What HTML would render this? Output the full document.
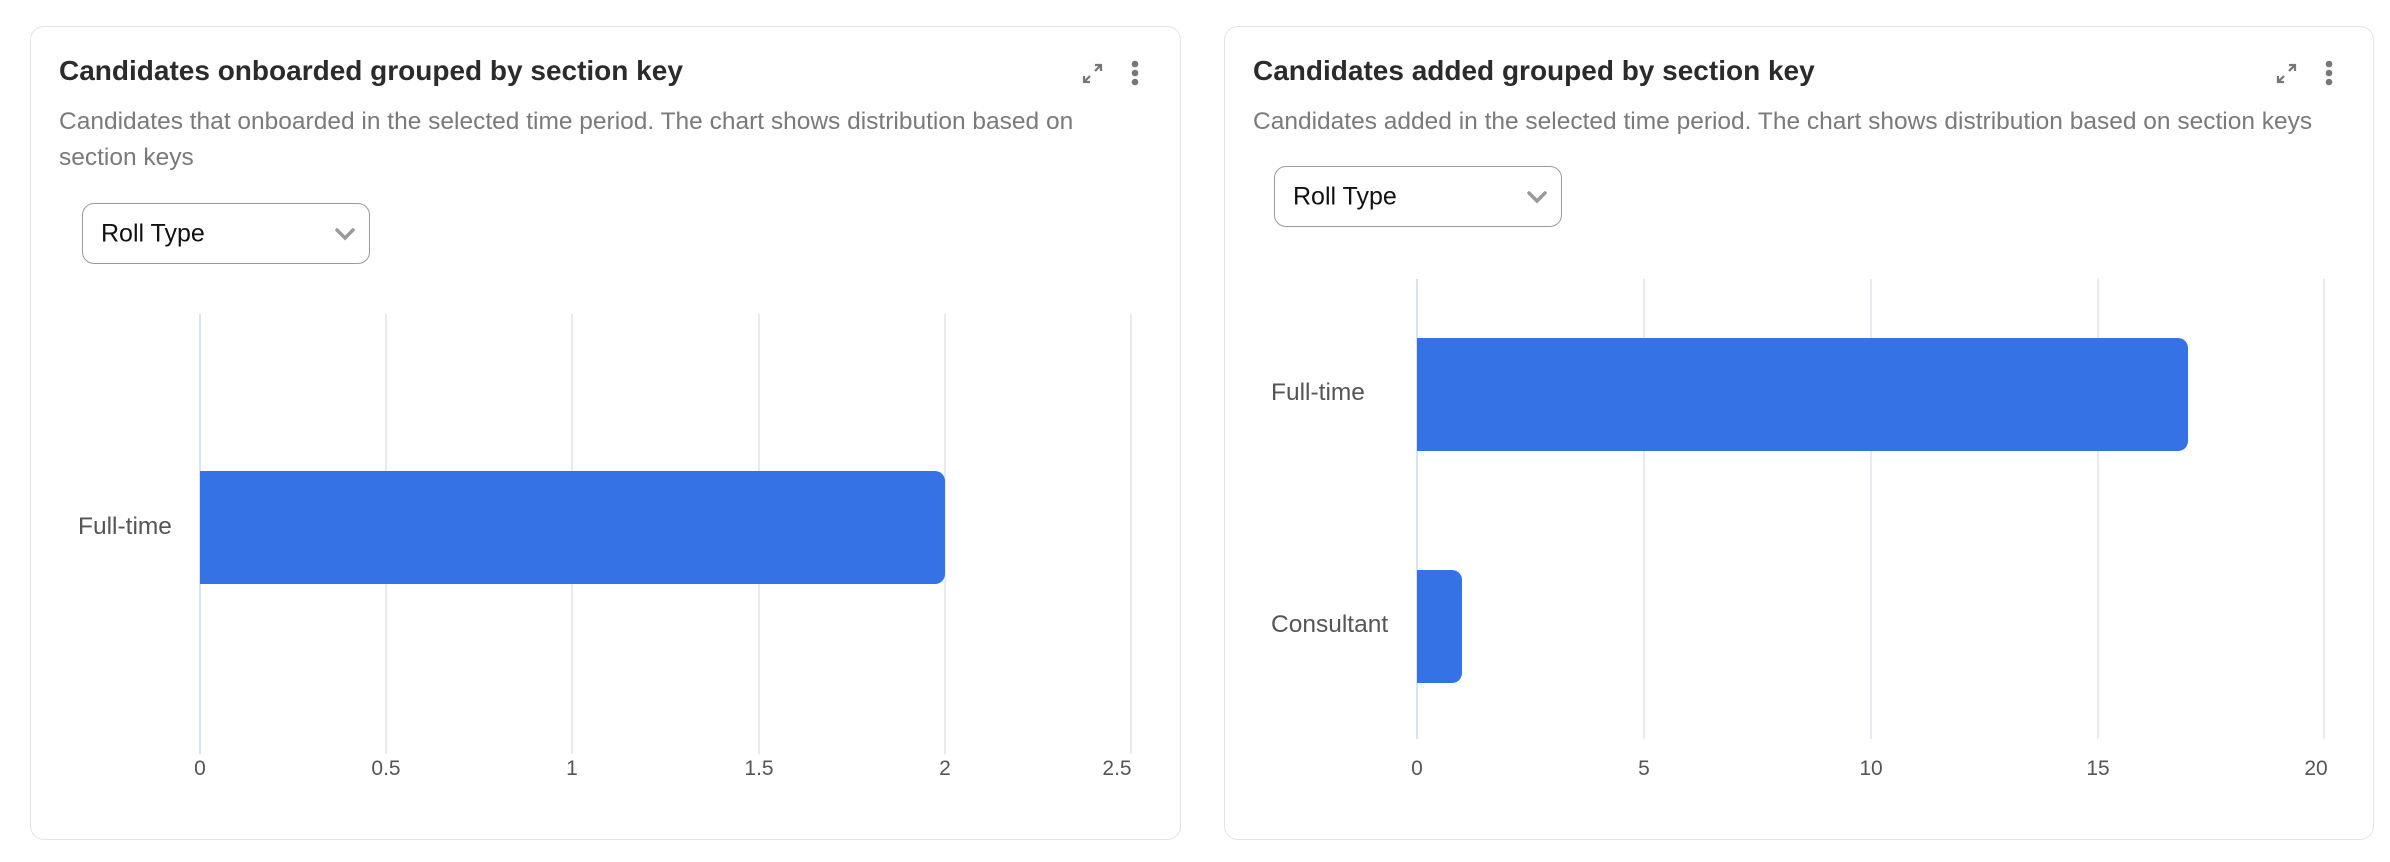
<!DOCTYPE html>
<html><head><style>
body{margin:0;width:2390px;height:862px;background:#fff;font-family:"Liberation Sans",sans-serif;position:relative;overflow:hidden}
.card{position:absolute;top:26px;height:814px;border:1.5px solid #e4e4e4;border-radius:14px;box-sizing:border-box;background:#fff}
.t{position:absolute;font-size:28px;font-weight:bold;color:#2b2b2b;letter-spacing:0px}
.d{position:absolute;font-size:24.5px;color:#7a7a7a;line-height:36px;white-space:nowrap}
.dd{position:absolute;border:1.5px solid #9a9a9a;border-radius:12px;box-sizing:border-box;font-size:25px;color:#111}
.dd span{position:absolute;left:18px;top:50%;transform:translateY(-50%)}
.lbl{position:absolute;font-size:24.5px;color:#555}
.tick{position:absolute;font-size:21px;color:#555;transform:translateX(-50%)}
</style></head><body>
<div class="card" style="left:30px;width:1151px"></div>
<div class="card" style="left:1224px;width:1150px"></div>

<div class="t" style="left:59px;top:55px">Candidates onboarded grouped by section key</div>
<div class="d" style="left:59px;top:104px">Candidates that onboarded in the selected time period. The chart shows distribution based on<br>section keys</div>
<div class="dd" style="left:82px;top:203px;width:288px;height:61px"><span>Roll Type</span></div>

<div class="t" style="left:1253px;top:55px">Candidates added grouped by section key</div>
<div class="d" style="left:1253px;top:104px">Candidates added in the selected time period. The chart shows distribution based on section keys</div>
<div class="dd" style="left:1274px;top:166px;width:288px;height:61px"><span>Roll Type</span></div>

<svg width="2390" height="862" style="position:absolute;left:0;top:0">
<g stroke="#9a9a9a" stroke-width="3.5" fill="none" stroke-linecap="round">
<path d="M337 230l8 8 8-8"/><path d="M1529 193l8 8 8-8"/>
</g>
<g fill="#777">
<circle cx="1135" cy="64" r="3.3"/><circle cx="1135" cy="73" r="3.3"/><circle cx="1135" cy="82" r="3.3"/>
<circle cx="2329" cy="64" r="3.3"/><circle cx="2329" cy="73" r="3.3"/><circle cx="2329" cy="82" r="3.3"/>
</g>
<g stroke="#777" stroke-width="2.2" fill="none">
<path d="M1084 82l6-6M1084 76v6h6M1101 65l-6 6M1095 65h6v6"/>
<path d="M2278 82l6-6M2278 76v6h6M2295 65l-6 6M2289 65h6v6"/>
</g>
<g stroke="#e2e4e8" stroke-width="1.5">
<line x1="386" y1="314" x2="386" y2="754"/><line x1="572" y1="314" x2="572" y2="754"/><line x1="759" y1="314" x2="759" y2="754"/><line x1="945" y1="314" x2="945" y2="754"/><line x1="1131" y1="314" x2="1131" y2="754"/>
<line x1="1644" y1="279" x2="1644" y2="739"/><line x1="1871" y1="279" x2="1871" y2="739"/><line x1="2098" y1="279" x2="2098" y2="739"/><line x1="2324" y1="279" x2="2324" y2="739"/>
</g>
<g stroke="#cfd8e8" stroke-width="1.5">
<line x1="200" y1="314" x2="200" y2="754"/><line x1="1417" y1="279" x2="1417" y2="739"/>
</g>
<g fill="#3572e6">
<path d="M200 471h735a10 10 0 0 1 10 10v93a10 10 0 0 1-10 10h-735z"/>
<path d="M1417 338h761a10 10 0 0 1 10 10v93a10 10 0 0 1-10 10h-761z"/>
<path d="M1417 570h35a10 10 0 0 1 10 10v93a10 10 0 0 1-10 10h-35z"/>
</g>
</svg>

<div class="lbl" style="left:78px;top:513px">Full-time</div>
<div class="lbl" style="left:1271px;top:379px">Full-time</div>
<div class="lbl" style="left:1271px;top:611px">Consultant</div>

<div class="tick" style="left:200px;top:757px">0</div>
<div class="tick" style="left:386px;top:757px">0.5</div>
<div class="tick" style="left:572px;top:757px">1</div>
<div class="tick" style="left:759px;top:757px">1.5</div>
<div class="tick" style="left:945px;top:757px">2</div>
<div class="tick" style="left:1117px;top:757px">2.5</div>

<div class="tick" style="left:1417px;top:757px">0</div>
<div class="tick" style="left:1644px;top:757px">5</div>
<div class="tick" style="left:1871px;top:757px">10</div>
<div class="tick" style="left:2098px;top:757px">15</div>
<div class="tick" style="left:2316px;top:757px">20</div>
</body></html>
